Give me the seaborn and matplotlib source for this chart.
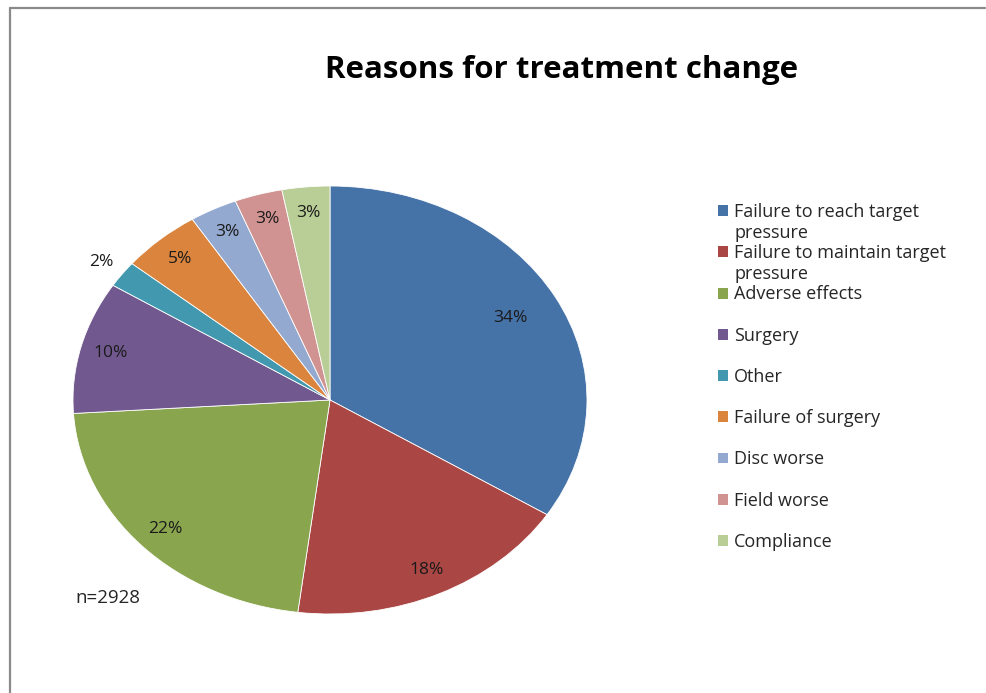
import seaborn as sns
import matplotlib.pyplot as plt
import numpy as np
from matplotlib.patches import Patch
from matplotlib.lines import Line2D

reasons = ["Failure to reach target pressure", "Failure to maintain target pressure",
           "Adverse effects", "Surgery", "Other", "Failure of surgery",
           "Disc worse", "Field worse", "Compliance"]
legend_lines = [["Failure to reach target", "pressure"],
                ["Failure to maintain target", "pressure"],
                ["Adverse effects"], ["Surgery"], ["Other"], ["Failure of surgery"],
                ["Disc worse"], ["Field worse"], ["Compliance"]]
shares = [34, 18, 22, 10, 2, 5, 3, 3, 3]
colors = ["#4572A7", "#AA4643", "#89A54E", "#71588F", "#4198AF",
          "#DB843D", "#93A9CF", "#D19392", "#B9CD96"]
n_total = 2928


def Main():
    sns.set_theme(style="white")
    plt.rcParams['font.family'] = ['Open Sans', 'DejaVu Sans']

    fig = plt.figure(figsize=(9.86, 6.93), dpi=100)
    ax = fig.add_axes([73 / 986, 79 / 693, 514 / 986, 428 / 693])

    wedges, texts, autotexts = ax.pie(
        shares, colors=colors, startangle=90, counterclock=False,
        autopct='%1.0f%%', pctdistance=0.88,
        wedgeprops=dict(edgecolor="white", linewidth=0.6),
        textprops=dict(fontsize=12.5, color="#1a1a1a"))
    ax.set_aspect('auto')
    ax.set_xlim(-1, 1)
    ax.set_ylim(-1, 1)

    # small slices get their label outside, biggest one sits a bit inward
    for w, t, v in zip(wedges, autotexts, shares):
        ang = np.deg2rad((w.theta1 + w.theta2) / 2)
        if v < 3:
            r = 1.1
        elif v == max(shares):
            r = 0.8
        else:
            continue
        t.set_position((r * np.cos(ang), r * np.sin(ang)))

    # legend: one row per text line, a blank row after single-line entries
    handles, labels = [], []
    for i, lines in enumerate(legend_lines):
        for j, line in enumerate(lines):
            if j == 0:
                handles.append(Patch(facecolor=colors[i], edgecolor="none"))
            else:
                handles.append(Patch(facecolor="none", edgecolor="none"))
            labels.append(line)
        if len(lines) == 1 and i < len(legend_lines) - 1:
            handles.append(Patch(facecolor="none", edgecolor="none"))
            labels.append(" ")
    fig.legend(handles, labels, loc="upper left", bbox_to_anchor=(718 / 986, 1 - 203 / 693),
               frameon=False, fontsize=13, handlelength=0.55, handleheight=0.55,
               handletextpad=0.35, labelspacing=0.145, borderpad=0, borderaxespad=0,
               labelcolor="#262626")

    fig.text(562 / 986, 1 - 70 / 693, "Reasons for treatment change",
             ha="center", va="center", fontsize=22.5, fontweight="bold", color="black")
    fig.text(75 / 986, 1 - 598 / 693, "n=%d" % n_total, ha="left", va="center",
             fontsize=13.5, color="#262626")

    # outer frame (top and left edges only visible)
    fig.add_artist(Line2D([10 / 986, 10 / 986], [0, 1 - 8 / 693],
                          transform=fig.transFigure, color="#8a8a8a", lw=1.6))
    fig.add_artist(Line2D([10 / 986, 985 / 986], [1 - 8 / 693, 1 - 8 / 693],
                          transform=fig.transFigure, color="#8a8a8a", lw=1.6))

    fig.savefig("out.png", dpi=100)


if __name__ == '__main__':
    Main()
